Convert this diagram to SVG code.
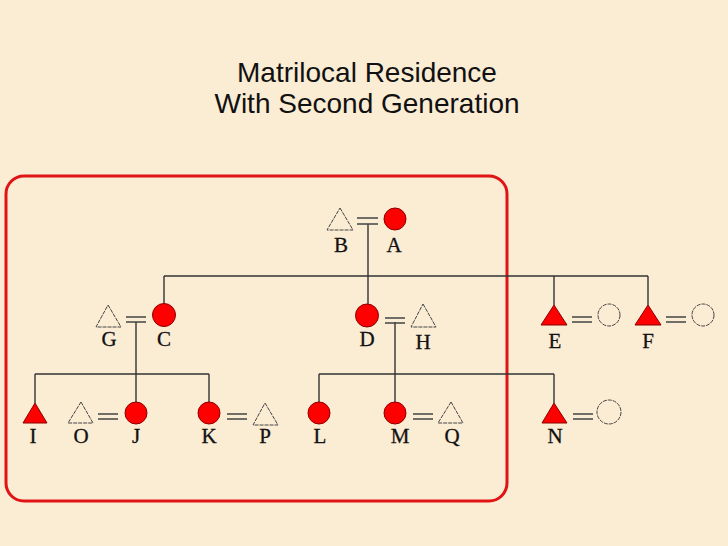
<svg xmlns="http://www.w3.org/2000/svg" width="728" height="546" viewBox="0 0 728 546">
<defs>
<style>
.title{font-family:"Liberation Sans",Arial,sans-serif;font-size:28px;fill:#111;text-anchor:middle}
.lbl{font-family:"Liberation Serif","Times New Roman",serif;font-size:21px;fill:#111;stroke:#111;stroke-width:0.3;text-anchor:middle}
.line{stroke:#333;stroke-width:1.4;fill:none}
.eq{stroke:#444;stroke-width:1.3;fill:none}
.fem{fill:#ff0000;stroke:#8a0000;stroke-width:1}
.mal{fill:#ff0000;stroke:#8a0000;stroke-width:1}
.open{fill:none;stroke:#444;stroke-width:1;stroke-dasharray:4 1}
</style>
</defs>
<rect x="0" y="0" width="728" height="546" fill="#fbecd4"/>
<text class="title" x="367" y="82">Matrilocal Residence</text>
<text class="title" x="367" y="113">With Second Generation</text>
<rect x="6" y="176" width="501" height="325" rx="18" ry="18" fill="none" stroke="#e01414" stroke-width="3"/>
<g id="connectors">
<line class="line" x1="368" y1="224" x2="368" y2="276"/>
<line class="line" x1="164" y1="276" x2="648" y2="276"/>
<line class="line" x1="164" y1="276" x2="164" y2="304"/>
<line class="line" x1="368" y1="276" x2="368" y2="304"/>
<line class="line" x1="554" y1="276" x2="554" y2="305"/>
<line class="line" x1="648" y1="276" x2="648" y2="305"/>
<line class="line" x1="136" y1="322" x2="136" y2="402"/>
<line class="line" x1="35" y1="374" x2="209" y2="374"/>
<line class="line" x1="35" y1="374" x2="35" y2="403"/>
<line class="line" x1="209" y1="374" x2="209" y2="402"/>
<line class="line" x1="395" y1="322" x2="395" y2="402"/>
<line class="line" x1="319" y1="374" x2="554" y2="374"/>
<line class="line" x1="319" y1="374" x2="319" y2="402"/>
<line class="line" x1="554" y1="374" x2="554" y2="403"/>
<path class="eq" d="M357 218H378M357 224H378"/>
<path class="eq" d="M126 317H146M126 322H146"/>
<path class="eq" d="M385 318H405M385 323H405"/>
<path class="eq" d="M572 317H592M572 322H592"/>
<path class="eq" d="M666 317H686M666 322H686"/>
<path class="eq" d="M98 414H118M98 419H118"/>
<path class="eq" d="M227 414H247M227 419H247"/>
<path class="eq" d="M413 414H433M413 419H433"/>
<path class="eq" d="M573 414H593M573 419H593"/>
</g>
<g id="B"><polygon class="open" points="340,208 353,230 327,230"/><text class="lbl" x="341" y="252">B</text></g>
<g id="A"><circle class="fem" cx="395" cy="219" r="11"/><text class="lbl" x="394" y="252">A</text></g>
<g id="G"><polygon class="open" points="108,305 121,327 96,327"/><text class="lbl" x="109" y="346">G</text></g>
<g id="C"><circle class="fem" cx="164" cy="315" r="11.5"/><text class="lbl" x="164" y="346">C</text></g>
<g id="D"><circle class="fem" cx="367" cy="315.5" r="11.5"/><text class="lbl" x="367" y="346">D</text></g>
<g id="H"><polygon class="open" points="423,304 436,327 411,327"/><text class="lbl" x="423" y="349">H</text></g>
<g id="E"><polygon class="mal" points="554,305 567,325 541,325"/><text class="lbl" x="555" y="348">E</text></g>
<g id="E-wife"><circle class="open" cx="609" cy="315" r="11"/></g>
<g id="F"><polygon class="mal" points="648,305 661,325 635,325"/><text class="lbl" x="648" y="348">F</text></g>
<g id="F-wife"><circle class="open" cx="703" cy="315" r="11"/></g>
<g id="I"><polygon class="mal" points="35,403 47,423 23,423"/><text class="lbl" x="33" y="443">I</text></g>
<g id="O"><polygon class="open" points="81,402 93,423 68,423"/><text class="lbl" x="81" y="443">O</text></g>
<g id="J"><circle class="fem" cx="136" cy="413" r="11"/><text class="lbl" x="136" y="443">J</text></g>
<g id="K"><circle class="fem" cx="209" cy="413" r="11"/><text class="lbl" x="209" y="443">K</text></g>
<g id="P"><polygon class="open" points="265,403 278,425 253,425"/><text class="lbl" x="265" y="443">P</text></g>
<g id="L"><circle class="fem" cx="319" cy="413" r="11"/><text class="lbl" x="320" y="443">L</text></g>
<g id="M"><circle class="fem" cx="395" cy="413" r="11"/><text class="lbl" x="400" y="443">M</text></g>
<g id="Q"><polygon class="open" points="451,402 463,423 438,423"/><text class="lbl" x="452" y="443">Q</text></g>
<g id="N"><polygon class="mal" points="554,403 567,423 542,423"/><text class="lbl" x="555" y="443">N</text></g>
<g id="N-wife"><circle class="open" cx="609" cy="412" r="12"/></g>
</svg>
